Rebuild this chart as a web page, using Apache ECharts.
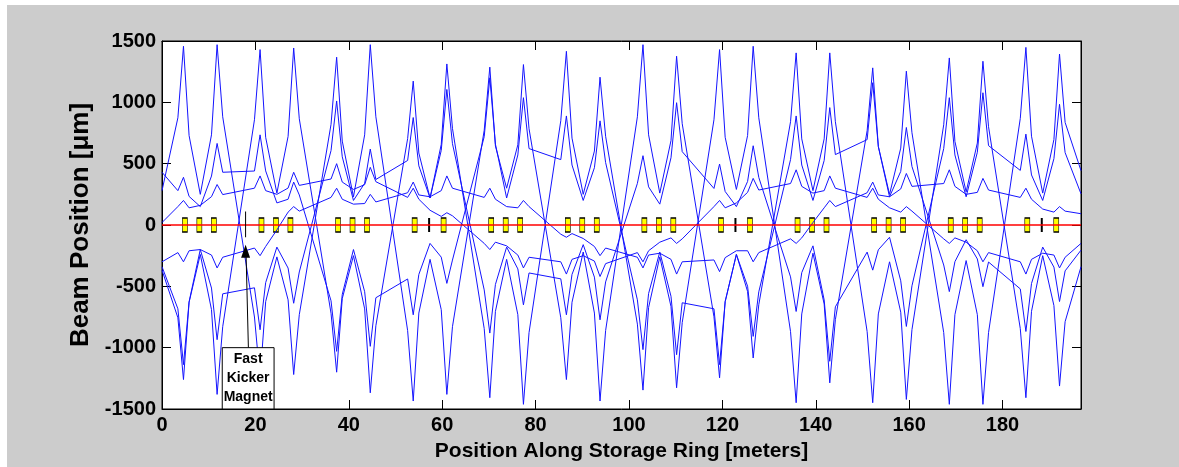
<!DOCTYPE html>
<html>
<head>
<meta charset="utf-8">
<script src="https://cdn.jsdelivr.net/npm/echarts@6/dist/echarts.min.js"></script>
<style>
  html, body { margin: 0; padding: 0; background: #fff; overflow: hidden; }
  #chart { position: absolute; left: 7px; top: 5px; width: 1172px; height: 462px; }
</style>
</head>
<body>
<div id="chart"></div>
<script>
// positions along the ring [m] where the orbit traces are sampled
const ringPos = [0,
  3.4, 4.6, 5.8, 8.2, 10.6, 11.8, 13.0,
  19.8, 21.0, 22.2, 24.6, 27.0, 28.2, 29.4,
  36.2, 37.4, 38.6, 41.0, 43.4, 44.6, 45.8,
  52.6, 53.8, 55.0, 57.4, 59.8, 61.0, 62.2,
  69.0, 70.2, 71.4, 73.8, 76.2, 77.4, 78.6,
  85.4, 86.6, 87.8, 90.2, 92.6, 93.8, 95.0,
  101.8, 103.0, 104.2, 106.6, 109.0, 110.2, 111.4,
  118.2, 119.4, 120.6, 123.0, 125.4, 126.6, 127.8,
  134.6, 135.8, 137.0, 139.4, 141.8, 143.0, 144.2,
  151.0, 152.2, 153.4, 155.8, 158.2, 159.4, 160.6,
  167.4, 168.6, 169.8, 172.2, 174.6, 175.8, 177.0,
  183.8, 185.0, 186.2, 188.6, 191.0, 192.2, 193.4,
  196.8];

// beam position [um], one array per orbit trace
const orbit1 = [280,
  874, 1457, 729, 250, 735, 1470, 882,
  -750, -1250, -625, -260, -610, -1219, -731,
  821, 1368, 684, 230, 735, 1470, 882,
  -861, -1435, -718, -280, -690, -1381, -829,
  772, 1287, 644, 300, 654, 1308, 785,
  -756, -1260, -630, -220, -718, -1435, -861,
  882, 1470, 735, 260, 688, 1376, 826,
  -748, -1246, -623, -240, -542, -1084, -650,
  842, 1403, 702, 280, 702, 1403, 842,
  -869, -1449, -725, -300, -711, -1422, -853,
  817, 1362, 681, 270, 668, 1335, 801,
  -845, -1408, -704, -250, -657, -1313, -788,
  -340];
const orbit2 = [-368,
  -756, -1260, -630, -240, -690, -1381, -829,
  858, 1430, 715, 260, 722, 1443, 866,
  -720, -1200, -600, -250, -684, -1368, -821,
  704, 1173, 587, 220, 657, 1313, 788,
  -845, -1408, -704, -280, -731, -1462, -877,
  850, 1416, 708, 250, 603, 1205, 723,
  -808, -1346, -673, -260, -664, -1327, -796,
  858, 1430, 715, 290, 729, 1457, 874,
  -869, -1449, -725, -230, -644, -1287, -772,
  769, 1281, 641, 250, 627, 1254, 752,
  -877, -1462, -731, -290, -731, -1462, -877,
  869, 1448, 724, 260, 697, 1394, 836,
  443];
const orbit3 = [430,
  280, 389, 233, 150, 399, 665, 430,
  440, 735, 441, 180, 210, 350, 245,
  -618, -1030, -566, -200, -544, -989, -593,
  -440, -732, -403, -150, -262, -476, -286,
  720, 1200, 660, 220, 571, 1038, 623,
  533, 889, 489, 200, 467, 849, 509,
  -610, -1016, -559, -220, -581, -1057, -634,
  -683, -1138, -626, -240, -499, -908, -545,
  533, 889, 489, 200, 526, 957, 574,
  696, 1160, 638, 230, 437, 795, 477,
  -326, -543, -299, -120, -277, -503, -302,
  -521, -868, -477, -180, -343, -624, -374,
  -205];
const orbit4 = [-340,
  -683, -1138, -626, -200, -514, -935, -561,
  -512, -854, -470, -180, -351, -638, -383,
  607, 1011, 556, 200, 340, 619, 371,
  526, 876, 482, 220, 608, 1105, 663,
  -529, -881, -485, -180, -358, -651, -391,
  -439, -732, -403, -160, -425, -773, -464,
  339, 565, 311, 170, 548, 997, 598,
  298, 497, 273, 150, 355, 646, 388,
  -423, -705, -388, -170, -611, -1111, -667,
  -221, -368, -202, -100, -455, -827, -496,
  623, 1038, 571, 230, 593, 1078, 647,
  445, 741, 408, 200, 541, 984, 590,
  254];
const orbit5 = [20,
  150, 200, 140, 160, 231, 330, 248,
  300, 400, 280, 250, 301, 430, 323,
  375, 500, 350, 290, 329, 470, 353,
  225, 300, 210, 120, 70, 100, 75,
  -150, -200, -140, -170, -245, -350, -263,
  -300, -400, -280, -250, -294, -420, -315,
  -225, -300, -210, -140, -105, -150, -113,
  150, 200, 140, 180, 266, 380, 285,
  338, 450, 315, 260, 280, 400, 300,
  225, 300, 210, 140, 105, 150, 113,
  -113, -150, -105, -140, -210, -300, -225,
  -300, -400, -280, -230, -245, -350, -263,
  -150];
const orbit6 = [-300,
  -225, -300, -210, -200, -245, -350, -263,
  -188, -250, -175, -40, 105, 150, 113,
  225, 300, 210, 170, 175, 250, 188,
  263, 350, 245, 230, 280, 400, 300,
  225, 300, 210, 150, 140, 200, 150,
  -75, -100, -70, -110, -175, -250, -188,
  -263, -350, -245, -230, -280, -400, -300,
  -285, -380, -266, -210, -210, -300, -225,
  -113, -150, -105, 20, 140, 200, 150,
  263, 350, 245, 230, 294, 420, 315,
  338, 450, 315, 250, 266, 380, 285,
  225, 300, 210, 130, 105, 150, 113,
  92];

// beam position monitors (yellow) and other markers (black) on the ring [m]
const bpmPos = [4.9, 8.0, 11.1, 21.3, 24.4, 27.5, 37.7, 40.8, 43.9,
  54.1, 60.3, 70.5, 73.6, 76.7, 86.9, 90.0, 93.1,
  103.3, 106.4, 109.5, 119.7, 125.9, 136.1, 139.2, 142.3,
  152.5, 155.6, 158.7, 168.9, 172.0, 175.1, 185.3, 191.5];
const markerPos = [57.2, 122.8, 188.4];

const ringLength = 196.8;
const kickerPos = 17.9;

const chartEl = document.getElementById('chart');
const chart = echarts.init(chartEl);

const fontFamily = '"Liberation Sans", Arial, sans-serif';
const toPairs = ys => ringPos.map((s, i) => [s, ys[i]]);
const orbits = [orbit1, orbit2, orbit3, orbit4, orbit5, orbit6];

const tickStyle = { inside: true, length: 9, lineStyle: { color: '#000', width: 1 } };
const axisLine = { show: true, onZero: false, lineStyle: { color: '#000', width: 1 } };

chart.setOption({
  backgroundColor: '#cccccc',
  animation: false,
  grid: {
    left: 155, top: 36, right: 98, bottom: 56,
    show: true, backgroundColor: '#ffffff', borderColor: '#000', borderWidth: 1
  },
  xAxis: [
    {
      type: 'value', min: 0, max: ringLength, interval: 20, position: 'bottom',
      axisLine, axisTick: tickStyle, splitLine: { show: false },
      axisLabel: {
        color: '#000', fontSize: 20, fontWeight: 'bold', fontFamily,
        margin: 6, showMaxLabel: false
      },
      name: 'Position Along Storage Ring [meters]',
      nameLocation: 'middle', nameGap: 32,
      nameTextStyle: { color: '#000', fontSize: 21, fontWeight: 'bold', fontFamily }
    },
    {
      type: 'value', min: 0, max: ringLength, interval: 20, position: 'top',
      axisLine, axisTick: tickStyle, splitLine: { show: false },
      axisLabel: { show: false }
    }
  ],
  yAxis: [
    {
      type: 'value', min: -1500, max: 1500, interval: 500, position: 'left',
      axisLine, axisTick: tickStyle, splitLine: { show: false },
      axisLabel: {
        color: '#000', fontSize: 20, fontWeight: 'bold', fontFamily, margin: 6,
        formatter: v => String(v)
      },
      name: 'Beam Position [\u03bcm]',
      nameLocation: 'middle', nameGap: 68, nameRotate: 90,
      nameTextStyle: { color: '#000', fontSize: 26, fontWeight: 'bold', fontFamily }
    },
    {
      type: 'value', min: -1500, max: 1500, interval: 500, position: 'right',
      axisLine, axisTick: tickStyle, splitLine: { show: false },
      axisLabel: { show: false }
    }
  ],
  series: [
    ...orbits.map(ys => ({
      type: 'line',
      data: toPairs(ys),
      showSymbol: false,
      silent: true,
      lineStyle: { color: '#1414ff', width: 1 }
    })),
    {
      type: 'line',
      data: [[0, 0], [ringLength, 0]],
      showSymbol: false,
      silent: true,
      lineStyle: { color: '#ff0000', width: 1.5 }
    },
    {
      type: 'scatter',
      data: bpmPos.map(s => [s, 0]),
      symbol: 'rect',
      symbolSize: [5, 14],
      itemStyle: { color: '#ffff00', borderColor: '#000', borderWidth: 1, opacity: 1 }
    },
    {
      type: 'scatter',
      data: markerPos.map(s => [s, 0]),
      symbol: 'rect',
      symbolSize: [2, 14],
      itemStyle: { color: '#000', opacity: 1 }
    }
  ]
});

// "Fast Kicker Magnet" callout, placed in data coordinates
const toPx = (s, v) => chart.convertToPixel({ xAxisIndex: 0, yAxisIndex: 0 }, [s, v]);
const markTop = toPx(kickerPos, 110);
const markBottom = toPx(kickerPos, -100);
const tip = toPx(kickerPos, -160);
const tail = toPx(18.5, -1000);
const boxTL = toPx(12.9, -1000);
const boxBR = toPx(24.0, -1500);
const boxCx = (boxTL[0] + boxBR[0]) / 2;
const ink = { stroke: '#000', lineWidth: 1 };

chart.setOption({
  graphic: [
    { type: 'line', z: 100, shape: { x1: markTop[0], y1: markTop[1], x2: markBottom[0], y2: markBottom[1] }, style: ink },
    { type: 'line', z: 100, shape: { x1: tail[0], y1: tail[1], x2: tip[0] + 0.5, y2: tip[1] + 10 }, style: ink },
    {
      type: 'polygon', z: 100,
      shape: { points: [[tip[0], tip[1]], [tip[0] - 4.5, tip[1] + 13], [tip[0] + 4.5, tip[1] + 13]] },
      style: { fill: '#000' }
    },
    {
      type: 'rect', z: 100,
      shape: { x: boxTL[0], y: boxTL[1], width: boxBR[0] - boxTL[0], height: boxBR[1] - boxTL[1] },
      style: { fill: '#fff', stroke: '#000', lineWidth: 1 }
    },
    ...['Fast', 'Kicker', 'Magnet'].map((t, i) => ({
      type: 'text', z: 101,
      x: boxCx, y: boxTL[1] + 11 + i * 19.3,
      style: {
        text: t, fill: '#000', font: 'bold 14px ' + fontFamily,
        align: 'center', verticalAlign: 'middle'
      }
    }))
  ]
});
</script>
</body>
</html>
